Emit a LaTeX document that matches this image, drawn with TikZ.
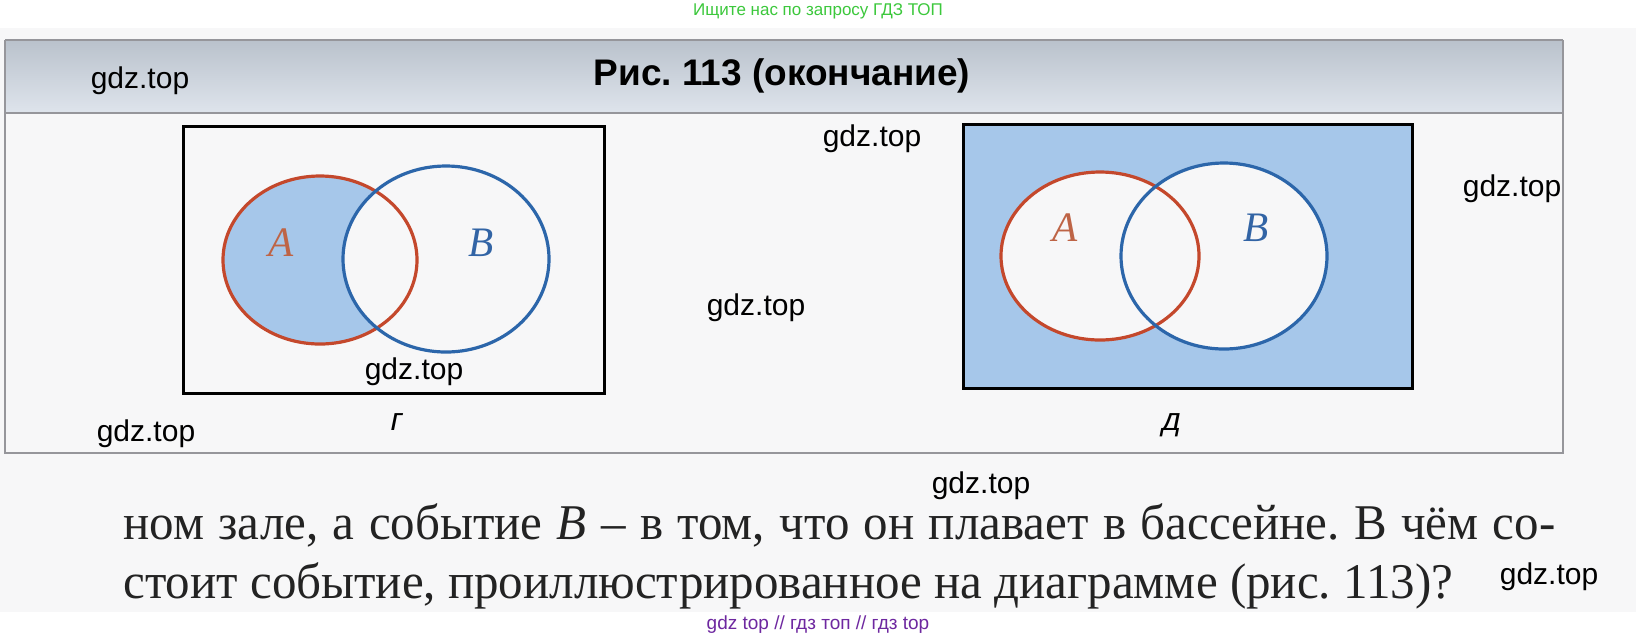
\documentclass[tikz,border=0pt]{standalone}
\usepackage{fontspec}
\setmainfont{Liberation Serif}
\newfontfamily\arialfont{Liberation Sans}
\newfontfamily\slantsans[FakeSlant=0.2]{Liberation Sans}
\newfontfamily\bodyfont[FakeStretch=0.98]{Liberation Serif}
\frenchspacing
\definecolor{vfill}{RGB}{166,199,234}
\definecolor{cA}{RGB}{196,72,44}
\definecolor{cB}{RGB}{44,102,170}
\definecolor{lA}{RGB}{190,100,70}
\definecolor{lB}{RGB}{50,100,165}
\definecolor{pagebg}{RGB}{247,247,248}
\definecolor{hdtop}{RGB}{186,194,204}
\definecolor{hdbot}{RGB}{222,228,236}
\definecolor{frameline}{RGB}{150,150,155}
\definecolor{wmgreen}{RGB}{60,200,60}
\definecolor{wmpurple}{RGB}{110,40,160}
\definecolor{bodytext}{RGB}{35,35,35}
\tikzset{
  wm/.style={font=\arialfont\fontsize{15pt}{18pt}\selectfont, text=black, inner sep=0pt},
  setlbl/.style={font=\bodyfont\itshape\fontsize{21pt}{24pt}\selectfont, inner sep=0pt},
  sublbl/.style={font=\slantsans\fontsize{16pt}{18pt}\selectfont, inner sep=0pt},
  boxline/.style={draw=black, line width=1.5pt},
  circA/.style={draw=cA, line width=1.6pt},
  circB/.style={draw=cB, line width=1.6pt},
  bodyline/.style={font=\bodyfont\fontsize{25pt}{30pt}\selectfont, text=bodytext, inner sep=0pt, anchor=base west}
}
\begin{document}
\begin{tikzpicture}[x=0.5pt,y=-0.5pt]
\useasboundingbox (0,0) rectangle (1636,639);
\fill[white] (0,0) rectangle (1636,639);
% page
\fill[pagebg] (0,28) rectangle (1636,612);
% header band
\shade[top color=hdtop, bottom color=hdbot] (5,40) rectangle (1563,113);
\draw[frameline, line width=1pt] (5,40) -- (1563,40);
\draw[frameline, line width=1pt] (5,113) -- (1563,113);
\draw[frameline, line width=1pt] (5,40) -- (5,453) -- (1563,453) -- (1563,40);
\node[font=\arialfont\bfseries\fontsize{18.5pt}{22pt}\selectfont, inner sep=0pt] (title) at (782,76) {Рис. 113 (окончание)};
% Diagram G
\draw[boxline] (183,126) rectangle (604,393);
\fill[vfill] (320,260) ellipse [x radius=97, y radius=84];
\fill[pagebg] (446,259) ellipse [x radius=103, y radius=93];
\draw[circA] (320,260) ellipse [x radius=97, y radius=84];
\draw[circB] (446,259) ellipse [x radius=103, y radius=93];
\node[setlbl, text=lA] (gA) at (281,243) {A};
\node[setlbl, text=lB] (gB) at (481,243) {B};
\node[sublbl] (gG) at (395,422) {г};
% Diagram D
\fill[vfill] (963,124) rectangle (1412,388);
\fill[pagebg] (1100,256) ellipse [x radius=99, y radius=84];
\fill[pagebg] (1224,256) ellipse [x radius=103, y radius=93];
\draw[circA] (1100,256) ellipse [x radius=99, y radius=84];
\draw[circB] (1224,256) ellipse [x radius=103, y radius=93];
\draw[boxline] (963,124) rectangle (1412,388);
\node[setlbl, text=lA] (dA) at (1065,228) {A};
\node[setlbl, text=lB] (dB) at (1256,228) {B};
\node[sublbl] (dD) at (1170,425) {д};
% body text
\node[bodyline] (line1) at (123,539) {\makebox[716pt][s]{ном зале, а событие \textit{B} – в том, что он плавает в бассейне. В чём со-}};
\node[bodyline] (line2) at (123,598) {стоит событие, проиллюстрированное на диаграмме (рис. 113)?};
% watermarks
\node[wm] (w1) at (140,81) {gdz.top};
\node[wm] (w2) at (872,139) {gdz.top};
\node[wm] (w3) at (1512,189) {gdz.top};
\node[wm] (w4) at (756,308) {gdz.top};
\node[wm] (w5) at (414,372) {gdz.top};
\node[wm] (w6) at (146,434) {gdz.top};
\node[wm] (w7) at (981,486) {gdz.top};
\node[wm] (w8) at (1549,577) {gdz.top};
\node[font=\arialfont\fontsize{8.5pt}{10pt}\selectfont, text=wmgreen, inner sep=0pt] (top) at (818,11) {Ищите нас по запросу ГДЗ ТОП};
\node[font=\arialfont\fontsize{9.5pt}{11pt}\selectfont, text=wmpurple, inner sep=0pt] (bot) at (818,625) {gdz top // гдз топ // гдз top};
\end{tikzpicture}
\end{document}
